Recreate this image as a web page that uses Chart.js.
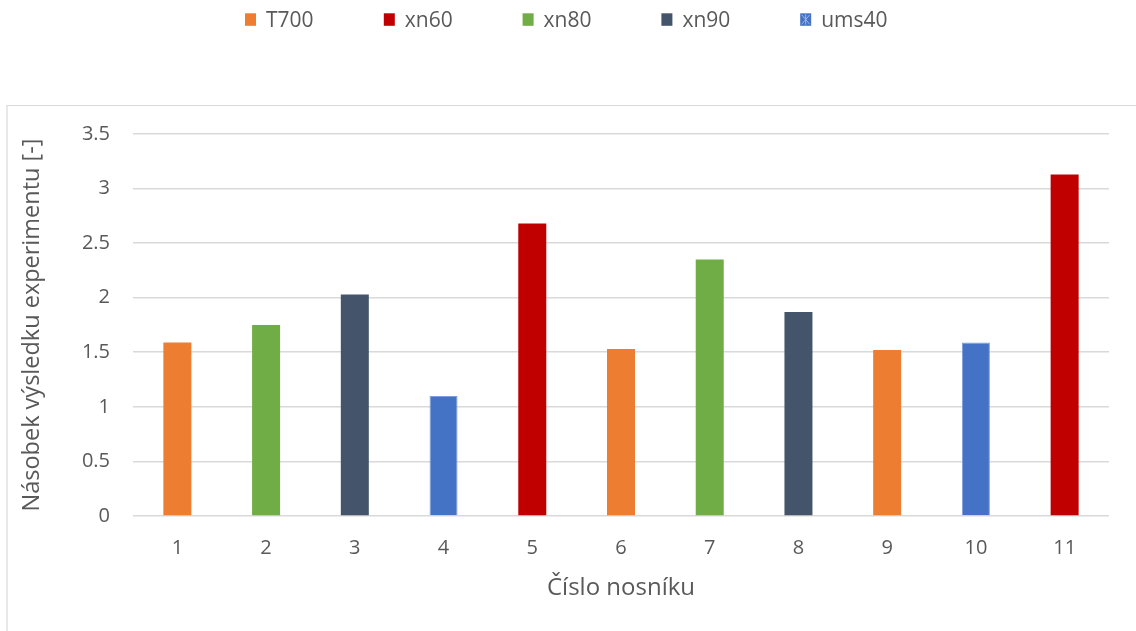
<!DOCTYPE html>
<html>
<head>
<meta charset="utf-8">
<title>Násobek výsledku experimentu</title>
<script src="https://cdn.jsdelivr.net/npm/chart.js@4/dist/chart.umd.min.js"></script>
<style>
  html, body { margin: 0; padding: 0; background: #ffffff; }
  #wrap { width: 1136px; height: 631px; position: relative; }
</style>
</head>
<body>
<div id="wrap"><canvas id="chart"></canvas></div>
<script>
// Beam numbers on the x axis
const categories = ['1', '2', '3', '4', '5', '6', '7', '8', '9', '10', '11'];

// Ratio of computed result to experiment, one array per fibre type
const t700  = [1.59, null, null, null, null, 1.53, null, null, 1.52, null, null];
const xn60  = [null, null, null, null, 2.68, null, null, null, null, null, 3.13];
const xn80  = [null, 1.75, null, null, null, null, 2.35, null, null, null, null];
const xn90  = [null, null, 2.03, null, null, null, null, 1.87, null, null, null];
const ums40 = [null, null, null, 1.10, null, null, null, null, null, 1.59, null];

// Y axis tick values
const yTicks = [0, 0.5, 1, 1.5, 2, 2.5, 3, 3.5];

const seriesNames = ['T700', 'xn60', 'xn80', 'xn90', 'ums40'];
const seriesData = [t700, xn60, xn80, xn90, ums40];
const seriesColors = ['#ED7D31', '#C00000', '#70AD47', '#44546A', '#4472C4'];

const textColor = '#595959';
const gridColor = '#d9d9d9';
const fontFamily = "'Open Sans', 'DejaVu Sans', sans-serif";

// Light frame around the plot region
const framePlugin = {
  id: 'frame',
  beforeDraw(chart) {
    const ctx = chart.ctx;
    ctx.save();
    ctx.strokeStyle = gridColor;
    ctx.lineWidth = 1.2;
    ctx.beginPath();
    ctx.moveTo(chart.width + 2, 105.5);
    ctx.lineTo(7, 105.5);
    ctx.lineTo(7, chart.height + 2);
    ctx.stroke();
    ctx.restore();
  }
};

// Legend row with evenly spaced entries above the frame
const legendRow = {
  id: 'legendRow',
  afterDraw(chart) {
    const ctx = chart.ctx;
    const startX = 245, pitch = 138.8, boxW = 11, boxH = 12.5, boxTop = 13.3;
    ctx.save();
    ctx.font = '21px ' + fontFamily;
    ctx.textBaseline = 'alphabetic';
    ctx.textAlign = 'left';
    chart.data.datasets.forEach((ds, i) => {
      const x = startX + i * pitch;
      ctx.fillStyle = ds.backgroundColor;
      ctx.fillRect(x, boxTop, boxW, boxH);
      if (ds.label === 'ums40') {
        // hatched marker for this series
        ctx.strokeStyle = '#9db5e4';
        ctx.lineWidth = 1;
        ctx.beginPath();
        ctx.moveTo(x + 1.5, boxTop + 1.5); ctx.lineTo(x + boxW - 1.5, boxTop + boxH - 1.5);
        ctx.moveTo(x + boxW - 1.5, boxTop + 1.5); ctx.lineTo(x + 1.5, boxTop + boxH - 1.5);
        ctx.moveTo(x + boxW / 2, boxTop + 1); ctx.lineTo(x + boxW / 2, boxTop + boxH - 1);
        ctx.stroke();
      }
      ctx.fillStyle = textColor;
      ctx.fillText(ds.label, x + 21, 27);
    });
    ctx.restore();
  }
};

const datasets = seriesNames.map((name, i) => ({
  label: name,
  data: seriesData[i],
  backgroundColor: seriesColors[i],
  borderColor: name === 'ums40' ? '#7f9fdc' : seriesColors[i],
  borderWidth: name === 'ums40' ? 1 : 0,
  borderSkipped: 'bottom',
  grouped: false,
  categoryPercentage: 1.0,
  barPercentage: 0.3156
}));

new Chart(document.getElementById('chart'), {
  type: 'bar',
  data: { labels: categories, datasets: datasets },
  plugins: [framePlugin, legendRow],
  options: {
    responsive: true,
    maintainAspectRatio: false,
    animation: false,
    devicePixelRatio: 1,
    layout: { padding: { top: 134, right: 27, bottom: 24, left: 14 } },
    plugins: {
      legend: { display: false },
      tooltip: { enabled: false }
    },
    scales: {
      x: {
        offset: true,
        grid: { display: false, drawTicks: false },
        border: { display: false },
        ticks: {
          color: textColor,
          font: { family: fontFamily, size: 20 },
          padding: 20,
          maxRotation: 0
        },
        title: {
          display: true,
          text: 'Číslo nosníku',
          color: textColor,
          font: { family: fontFamily, size: 24 },
          padding: { top: 4, bottom: 4 }
        },
        afterFit(scale) { scale.height = 91; }
      },
      y: {
        min: 0,
        max: 3.5,
        grid: { color: gridColor, lineWidth: 1.6, drawTicks: false },
        border: { display: false },
        afterBuildTicks(scale) {
          scale.ticks = yTicks.map(v => ({ value: v }));
        },
        ticks: {
          color: textColor,
          font: { family: fontFamily, size: 20 },
          padding: 23,
          callback: (v) => String(v)
        },
        title: {
          display: true,
          text: 'Násobek výsledku experimentu [-]',
          color: textColor,
          font: { family: fontFamily, size: 23.5 },
          padding: { top: 4, bottom: 4 }
        },
        afterFit(scale) { scale.width = 119; }
      }
    }
  }
});
</script>
</body>
</html>
